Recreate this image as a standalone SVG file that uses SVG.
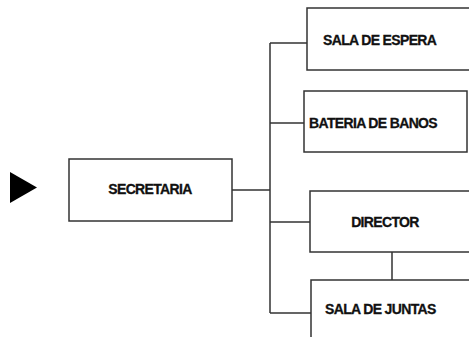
<svg xmlns="http://www.w3.org/2000/svg" width="469" height="337" viewBox="0 0 469 337">
<style>
.box{fill:#fff;stroke:#333;stroke-width:1.5}
.lbl{font-family:"Liberation Sans",Arial,sans-serif;font-weight:bold;font-size:14px;fill:#111;stroke:#111;stroke-width:0.3;letter-spacing:-0.65px}
.con{fill:none;stroke:#333;stroke-width:1.5}
</style>
<rect width="469" height="337" fill="#fff"/>
<polygon points="10,172 37,187.5 10,203" fill="#000"/>
<g id="connectors">
<path class="con" d="M232,190 H270 M270,43 V313 M270,43 H307 M270,123 H304 M270,222 H310 M270,313 H311 M392,252 V280"/>
</g>
<g id="secretaria">
<rect class="box" x="69" y="159" width="163" height="62"/>
<text class="lbl" x="150" y="194" text-anchor="middle">SECRETARIA</text>
</g>
<g id="sala-espera">
<rect class="box" x="307" y="8" width="170" height="62"/>
<text class="lbl" x="323" y="45">SALA DE ESPERA</text>
</g>
<g id="bateria">
<rect class="box" x="304" y="91" width="163" height="61"/>
<text class="lbl" x="309" y="128">BATERIA DE BANOS</text>
</g>
<g id="director">
<rect class="box" x="310" y="191" width="170" height="61"/>
<text class="lbl" x="385" y="227" text-anchor="middle">DIRECTOR</text>
</g>
<g id="sala-juntas">
<rect class="box" x="311" y="280" width="170" height="70"/>
<text class="lbl" x="325" y="314">SALA DE JUNTAS</text>
</g>
</svg>
